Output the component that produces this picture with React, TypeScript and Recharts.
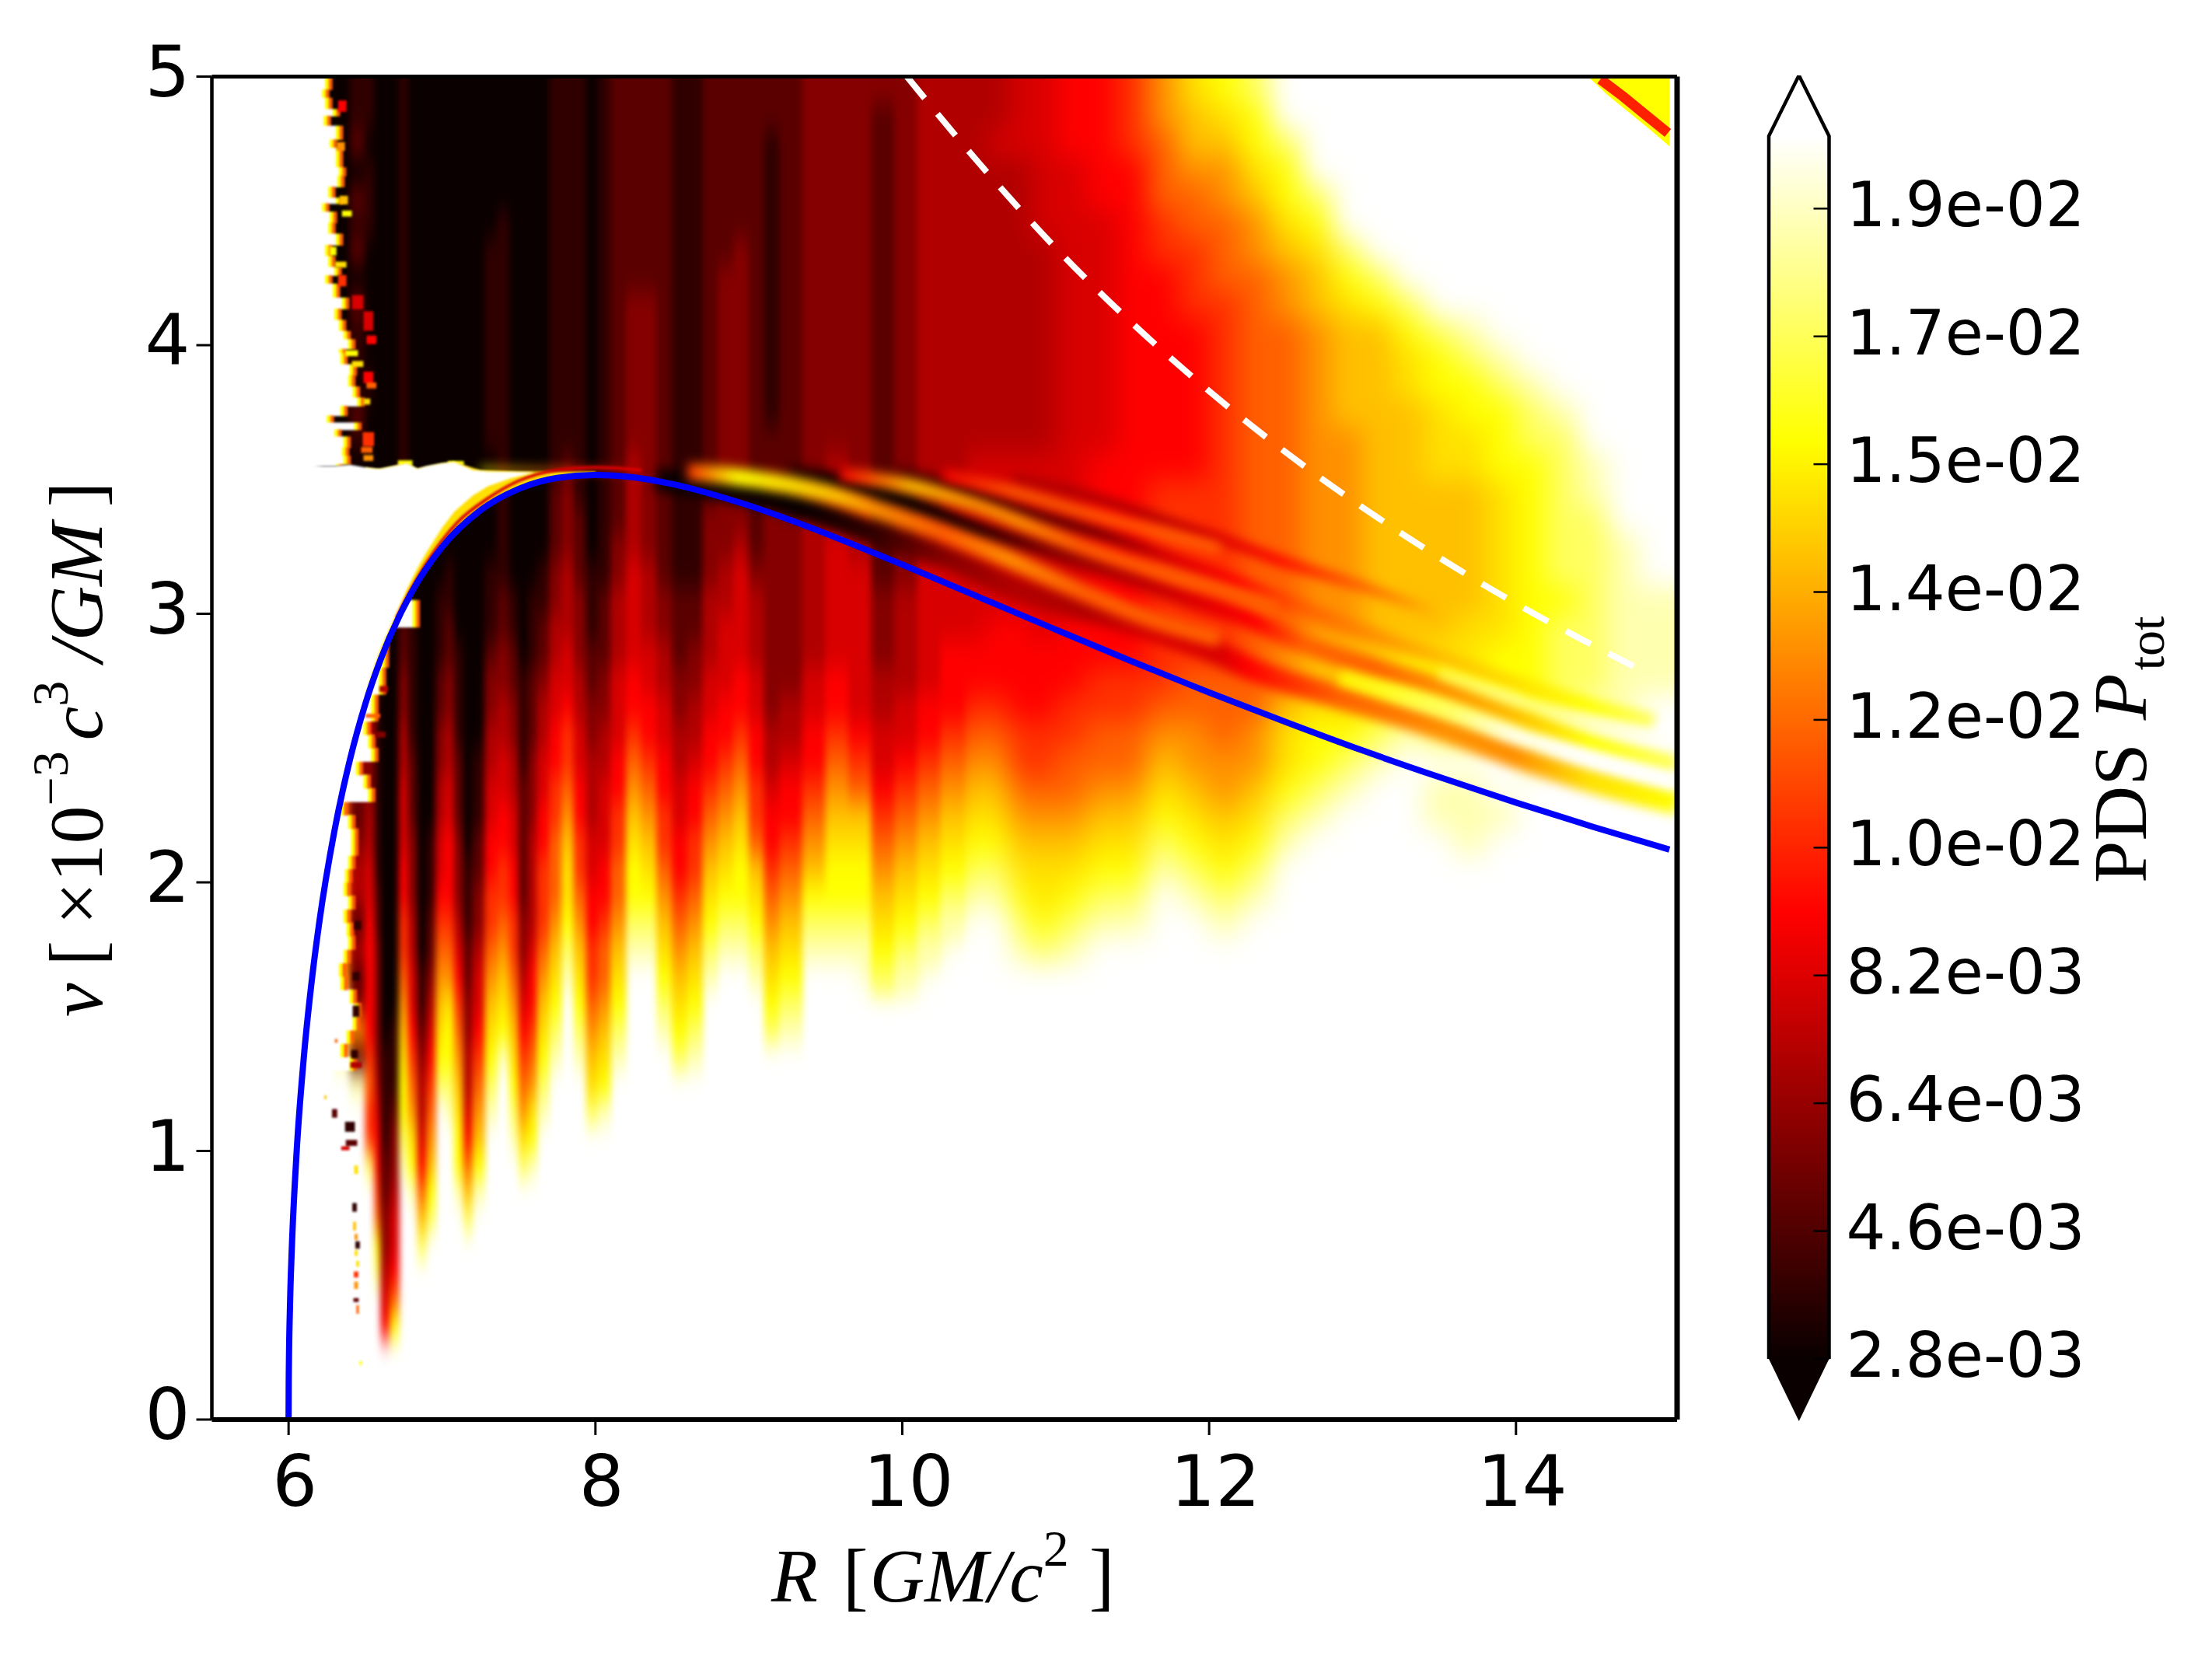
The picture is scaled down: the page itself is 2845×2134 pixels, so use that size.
import React from "react";
import { ComposedChart, XAxis, YAxis, Scatter, Line, Area, Label } from "recharts";

// ---------- figure frame ----------
const W = 2845, H = 2134;
const PL = 272.5, PR = 2157, PT = 98.5, PB = 1826;
const PX_R = (PR - PL) / 9.5, PX_NU = (PB - PT) / 5;

const xTicks = [6, 8, 10, 12, 14];
const yTicks = [0, 1, 2, 3, 4, 5];

// ---------- colour levels of the map ----------
const levelColors: Record<string, string> = {
  "0": "#0a0000", "1": "#300000", "2": "#5a0000", "3": "#850000", "4": "#b00000", "5": "#d80000",
  "6": "#ff0000", "7": "#ff3000", "8": "#ff6000", "9": "#ff9000", a: "#ffc000", b: "#ffe000",
  c: "#ffff00", d: "#ffff60", e: "#ffffb0", ".": "#ffffff",
};

// ---------- heat map, read column by column: left edge R, then levels for nu 0-1, 1-2, 2-3, 3-4, 4-5 ----------
const columnEdges = [6.2,6.3,6.4,6.5,6.56,6.6,6.66,6.72,6.78,6.84,6.9,6.96,7.02,7.08,7.14,7.2,7.28,7.36,7.44,7.5,7.56,7.62,7.7,7.78,7.86,7.94,8.02,8.1,8.2,8.3,8.4,8.5,8.6,8.7,8.8,8.9,9.0,9.1,9.2,9.35,9.5,9.65,9.8,9.95,10.1,10.25,10.4,10.55,10.7,10.85,11,11.2,11.4,11.6,11.8,12,12.2,12.4,12.6,12.8,13,13.2,13.4,13.6,13.8,14,14.2,14.4,14.6,14.8,15];
const heatColumns = [
  ".......... .......... .......... 0000000000 0000000000",
  ".......... ...e9e9989 8888777777 0000000000 0000000000",
  ".......... ..e2932424 4323333333 0000001201 1202120211",
  ".........d 7787666665 5443355443 0000000010 0000111011",
  ".....dc876 6543333322 1111111111 0000000000 0000000000",
  "...6543322 1111000000 0000000000 0000000000 0000000000",
  "...c865543 3211100000 0000000000 0000000000 0000000000",
  ".........e dccba98776 6555443322 1111111111 1111111111",
  "........ec b987655443 3322211111 0000000000 0000000000",
  "......da86 5443211000 0000000000 0000000000 0000000000",
  ".......dca 9876543221 1100000000 0000000000 0000000000",
  ".......... ..dcba9876 5544332211 1000000000 0000000000",
  ".......... .edccb9876 6655443322 1100000000 0000000000",
  "........ec cba9876543 3322211110 0000000000 0000000000",
  ".......da8 6544332211 1000000000 0000000000 0000000000",
  "........ec a987655433 2211100000 0000000000 0000000000",
  ".......... .edcba9877 6655443321 1100001111 1111000000",
  ".......... ...ecba987 7665544332 2111111111 1111100000",
  ".......... edcba98776 6554433221 1000000000 0000000000",
  ".........d b987654332 2222111100 0000000000 0000000000",
  ".........e cb98766544 4433322211 1000000000 0000000000",
  ".......... .edcba9877 7665544322 1100000000 0000000000",
  ".......... ...edcba98 8877665544 3322211111 1111111111",
  ".......... ......edcb ba98776554 4433321111 1111111111",
  ".......... ...edcba98 7766554433 3222111111 1111111111",
  ".......... .dba987766 5544433221 1100000000 0000000000",
  ".......... .ecba98876 6555443322 2111111111 1111111111",
  ".......... ...edcba98 8776655544 4332222222 2222222222",
  ".......... .......edc cba9876655 5544443333 3322222222",
  ".......... .......edc ba98766554 4433333333 3322222222",
  ".......... ....edcba9 8776655443 3222222222 2222222222",
  ".......... ...dcba987 6655443322 2111111111 1111111111",
  ".......... ...edcba98 7766544332 2111111111 1111111111",
  ".......... ......edcb a987665544 4333222222 2222222222",
  ".......... .......edc ba98766555 4433333333 3332222222",
  ".......... .......edc cba9876655 5543333333 3333222222",
  ".......... ......edcb a877665544 4322222222 2222222222",
  ".......... ....dcba98 7665443333 3333322111 1111111122",
  ".......... ....edcba9 8766544333 3333222222 2222222222",
  ".......... .......edc a987665544 4444333333 3333333333",
  ".......... .......edc cba9876655 5554443333 3333333333",
  ".......... .......edc cba8765555 5544433333 3333333333",
  ".......... ......dcba 9876554433 3222222222 2222222223",
  ".......... ......edcb a987655444 4333333333 3333333333",
  ".......... .......edc ba98766555 5544444444 4444444444",
  ".......... ........ed cba9876665 5555544444 4444444444",
  ".......... .........e dcba987665 5555554444 4444444444",
  ".......... .........e dcba987666 5555554444 4444444544",
  ".......... .......edc ba98776666 5555554444 4444444555",
  ".......... .......dcb ba98776665 5555554444 4444555555",
  ".......... .......edc ba98877666 5555555555 5555555666",
  ".......... ........ed cba9887766 6666665555 5555566666",
  ".......... ........ed cba9887766 6666666666 6666666777",
  ".......... .......... edcba98777 7777766666 6667788899",
  ".......... .........e dcba998877 7777766666 6777889aab",
  ".......... ........ed cba9988877 7777777777 7788899abc",
  ".......... .........e dcba998888 8888888888 88899abccd",
  ".......... .......... .edcbba998 8888888888 899abccd..",
  ".......... .......... ..edccbaa9 9999999999 9aabcd....",
  ".......... .......... ...edcbaa9 9999999aaa abcd......",
  ".......... .......... ....edcbaa aaaaaaaaaa acd.......",
  ".......... .......... .....edcba aaaaaaaabb cd........",
  ".......... .......... ..ee.ddcba aaaaabbbcc d.........",
  ".......... .......... .eee.ddcbb aaaaabbccd e.........",
  ".......... .......... ..e..edccb bbbbbcccde ..........",
  ".......... .......... ....edcccc ccccccdde. ..........",
  ".......... .......... .....edddd cdddddde.. ..........",
  ".......... .......... ......eddd ddddee.... ..........",
  ".......... .......... ......eeee eee....... ..........",
  ".......... .......... .......eee e......... ..........",
];

// ---------- left, jagged edge of the colored region ----------
// lower block: nu from 1.30 every 0.05 up to 3.00
const lowerEdgeStart = 1.3;
const lowerEdge = [6.40,6.34,6.38,6.42,6.43,6.40,6.34,6.33,6.36,6.39,6.38,6.36,6.39,6.36,6.37,6.39,6.41,6.41,6.39,6.34,6.52,6.49,6.44,6.54,6.52,6.49,6.54,6.54,6.59,6.59,6.61,6.61,6.61,6.81,6.81,6.72];
// upper block: [nu, R]
const upperEdge = [[5,6.24],[4.951,6.22],[4.92,6.24],[4.878,6.29],[4.853,6.23],[4.816,6.31],[4.765,6.27],[4.734,6.31],[4.703,6.31],[4.661,6.33],[4.63,6.32],[4.589,6.26],[4.548,6.31],[4.527,6.22],[4.496,6.27],[4.455,6.26],[4.414,6.31],[4.372,6.24],[4.331,6.26],[4.29,6.30],[4.259,6.24],[4.228,6.29],[4.176,6.35],[4.135,6.30],[4.093,6.33],[4.052,6.36],[4.021,6.39],[3.985,6.33],[3.969,6.34],[3.928,6.40],[3.887,6.39],[3.845,6.42],[3.804,6.45],[3.773,6.34],[3.737,6.25],[3.711,6.43],[3.685,6.30],[3.659,6.36],[3.618,6.35],[3.587,6.36],[3.556,6.31]];

// flecks: R, nu, size in R, size in nu, level
const flecks: [number, number, number, number, string][] = [
  [6.35,4.89,.05,.04,"6"],[6.34,4.74,.05,.03,"9"],[6.36,4.54,.05,.03,"a"],[6.38,4.49,.06,.02,"c"],[6.29,4.35,.04,.03,"c"],[6.34,4.30,.07,.02,"b"],[6.35,4.24,.05,.04,"7"],[6.45,4.16,.07,.05,"5"],[6.52,4.09,.06,.07,"5"],[6.54,4.02,.06,.03,"6"],[6.41,3.97,.08,.02,"c"],[6.45,3.93,.07,.02,"b"],[6.52,3.88,.06,.04,"6"],[6.54,3.85,.06,.02,"8"],[6.51,3.79,.04,.02,"b"],[6.52,3.65,.07,.05,"7"],[6.51,3.61,.07,.02,"8"],[6.52,3.58,.06,.02,"9"],[6.76,3.56,.09,.02,"c"],[7.09,3.56,.1,.015,"c"],
  [6.30,1.14,.03,.03,"2"],[6.40,1.09,.06,.035,"1"],[6.41,1.03,.07,.02,"2"],[6.37,1.01,.05,.012,"5"],[6.44,.93,.02,.03,"b"],[6.43,.79,.025,.03,"1"],[6.43,.72,.015,.03,"a"],[6.44,.68,.015,.02,"9"],[6.45,.65,.025,.025,"1"],[6.44,.62,.015,.02,"b"],[6.45,.58,.015,.02,"b"],[6.44,.54,.025,.02,"7"],[6.44,.50,.02,.025,"9"],[6.44,.445,.03,.012,"2"],[6.45,.41,.012,.03,"8"],[6.47,.21,.012,.012,"c"],[6.31,1.41,.012,.012,"8"],[6.24,1.2,.01,.012,"a"],[6.43,1.36,.04,.03,"1"],[6.44,1.32,.07,.02,"4"],[6.44,1.52,.04,.04,"1"],[6.44,1.65,.04,.03,"1"],[6.45,1.84,.04,.03,"1"],[6.31,2.93,.012,.01,"c"],[6.44,2.93,.015,.012,"c"],[6.23,2.86,.008,.01,"d"],[6.61,3.0,.03,.012,"3"],[6.55,2.62,.09,.012,"8"],[6.62,2.72,.05,.02,"4"],[6.6,2.55,.06,.02,"3"],
];

// ---------- curves ----------
const epicyclicCurve = [[6,0],[6.001,.14],[6.01,.441],[6.02,.621],[6.05,.972],[6.1,1.353],[6.15,1.629],[6.2,1.851],[6.3,2.195],[6.4,2.457],[6.5,2.664],[6.6,2.83],[6.8,3.078],[7,3.248],[7.25,3.385],[7.5,3.465],[7.75,3.506],[8,3.517],[8.25,3.508],[8.5,3.483],[9,3.403],[9.5,3.299],[10,3.183],[10.5,3.062],[11,2.941],[11.5,2.822],[12,2.707],[12.5,2.597],[13,2.491],[13.5,2.392],[14,2.297],[14.5,2.207],[15,2.122]];
const keplerCurve = [[10.03,5],[10.5,4.678],[11,4.362],[11.5,4.081],[12,3.829],[12.5,3.601],[13,3.396],[13.5,3.209],[14,3.038],[14.5,2.883],[14.8,2.795]];

// gap between upper block and curve: R, curve side, top side
const glowBand = [[6.5,2.664,3.545],[6.57,2.79,3.54],[6.6,2.83,3.54],[6.77,3.05,3.56],[6.84,3.12,3.54],[7,3.248,3.56],[7.08,3.31,3.565],[7.25,3.385,3.535],[7.5,3.465,3.53],[7.75,3.506,3.53],[8,3.517,3.53]];
const whiteBand = [[6.1,1.4,3.55],[6.2,1.87,3.55],[6.3,2.22,3.55],[6.4,2.49,3.555],[6.5,2.70,3.545],[6.57,2.82,3.54],[6.6,2.87,3.54],[6.77,3.09,3.56],[6.84,3.17,3.54],[6.9,3.23,3.55],[7,3.32,3.56],[7.08,3.38,3.565],[7.2,3.44,3.535],[7.3,3.475,3.53],[7.45,3.505,3.528],[7.6,3.525,3.526]];
const redGlow = [[6.7,2.985],[6.9,3.19],[7.1,3.34],[7.3,3.43],[7.5,3.495],[7.75,3.535],[8,3.545],[8.3,3.535]];

// top-right corner
const cornerPatch = [[14.47,5,5],[14.6,4.93,5],[14.75,4.86,5],[14.9,4.79,5],[15,4.74,5]];
const cornerStripe = [[14.55,4.99],[14.7,4.925],[14.85,4.855],[14.99,4.79]];

// stripes fanning off the curve: R, nu, level
const stripe1 = [[8.4,3.5,"0"],[8.92,3.455,"0"],[9.37,3.39,"0"],[9.82,3.30,"1"],[10.27,3.217,"3"],[10.72,3.10,"4"],[11.17,3.02,"4"],[11.62,2.94,"5"],[12.07,2.85,"5"],[12.25,2.80,"6"],[12.85,2.69,"8"],[13.54,2.567,"9"],[14,2.47,"9"],[14.47,2.38,"b"],[15.05,2.295,"c"]];
const stripe2 = [[9.26,3.52,"1"],[9.6,3.486,"0"],[10.05,3.41,"0"],[10.5,3.31,"1"],[10.95,3.24,"3"],[11.4,3.155,"4"],[11.85,3.06,"5"],[12.3,2.97,"6"],[12.62,2.887,"8"],[13.08,2.80,"8"],[13.54,2.72,"9"],[14,2.62,"a"],[14.47,2.525,"c"],[15.05,2.44,"d"]];
const stripe3 = [[9.93,3.527,"2"],[10.38,3.455,"1"],[10.83,3.37,"2"],[11.28,3.30,"3"],[11.73,3.207,"5"],[12.18,3.114,"6"],[12.62,3.02,"8"],[13.08,2.918,"9"],[13.54,2.835,"a"],[14,2.74,"b"],[14.47,2.66,"c"],[14.9,2.60,"d"]];
const stripe4 = [[10.72,3.507,"4"],[11.17,3.445,"4"],[11.62,3.362,"4"],[12.07,3.28,"5"],[12.45,3.2,"6"],[13,3.1,"8"],[13.5,3.0,"a"]];
const bright1 = [[8.6,3.53,"7"],[8.92,3.51,"c"],[9.26,3.48,"b"],[9.595,3.434,"a"],[9.82,3.39,"9"],[10.27,3.30,"8"],[10.68,3.207,"9"],[11.17,3.083,"8"],[11.62,2.98,"8"],[12.07,2.907,"8"]];
const bright2 = [[9.595,3.52,"6"],[10.05,3.476,"a"],[10.5,3.40,"9"],[10.77,3.34,"9"],[11.17,3.25,"8"],[11.62,3.165,"8"],[12.07,3.09,"8"],[12.45,3.02,"8"]];
const bright3 = [[10.27,3.517,"6"],[10.72,3.455,"8"],[11.17,3.38,"8"],[11.62,3.31,"8"],[12.07,3.24,"8"]];
const paleGap1 = [[12.85,2.763,"c"],[13.54,2.64,"d"],[14,2.546,"."],[14.5,2.46,"."],[15.05,2.37,"."]];
const paleGap2 = [[13.5,2.78,"d"],[14,2.68,"e"],[14.47,2.59,"e"],[15.05,2.52,"."]];
const ridge = [[7.25,3.54,"c"],[7.6,3.535,"9"],[7.9,3.535,"7"],[8.3,3.533,"3"]];

const stripes: { id: string; pts: any[]; width: number }[] = [
  { id: "s1", pts: stripe1, width: 30 },
  { id: "s2", pts: stripe2, width: 24 },
  { id: "s3", pts: stripe3, width: 20 },
  { id: "s4", pts: stripe4, width: 14 },
  { id: "b1", pts: bright1, width: 22 },
  { id: "b2", pts: bright2, width: 18 },
  { id: "b3", pts: bright3, width: 14 },
  { id: "w1", pts: paleGap1, width: 16 },
  { id: "w2", pts: paleGap2, width: 10 },
  { id: "r1", pts: ridge, width: 5 },
];

// ---------- colour bar ----------
const colorbarLabels = ["2.8e-03", "4.6e-03", "6.4e-03", "8.2e-03", "1.0e-02", "1.2e-02", "1.4e-02", "1.5e-02", "1.7e-02", "1.9e-02"];
const colorbarTicks = [0, 1, 2, 3, 4, 5, 6, 7, 8, 9];
const colorbarTop = 9.568, colorbarMaxExt = 10.042, colorbarMinExt = -0.487;
const colorbarBody = [{ x: 0, lo: 0, hi: colorbarTop }, { x: 1, lo: 0, hi: colorbarTop }];
const colorbarUpper = [{ x: 0, lo: colorbarTop, hi: colorbarTop }, { x: 0.5, lo: colorbarTop, hi: colorbarMaxExt }, { x: 1, lo: colorbarTop, hi: colorbarTop }];
const colorbarLower = [{ x: 0, lo: 0, hi: 0 }, { x: 0.5, lo: colorbarMinExt, hi: 0 }, { x: 1, lo: 0, hi: 0 }];
const colorbarOutline = [{ x: 0, y: 0 }, { x: 0, y: colorbarTop }, { x: 0.5, y: colorbarMaxExt }, { x: 1, y: colorbarTop }, { x: 1, y: 0 }];
const colorbarStops = [["0", "#ffffff"], ["0.25", "#ffff00"], ["0.636", "#ff0000"], ["1", "#0a0000"]];

// ---------- derived tables for the library ----------
const fineCells: any[] = [];
const coarseCells: any[] = [];
heatColumns.forEach((col, i) => {
  const cells = col.replace(/ /g, "");
  const r0 = columnEdges[i], r1 = columnEdges[i + 1];
  let j = 0;
  while (j < cells.length) {
    let k = j;
    while (k + 1 < cells.length && cells[k + 1] === cells[j]) k++;
    if (cells[j] !== ".") {
      const lo = j * 0.1, hi = (k + 1) * 0.1;
      const cell = { r: (r0 + r1) / 2, nu: (lo + hi) / 2, w: r1 - r0, h: hi - lo, l: cells[j], up: k === cells.length - 1 ? 60 : 0, right: r1 === 15 ? 60 : 0 };
      if (r0 <= 10.25) fineCells.push(cell);
      if (r0 >= 9.8) coarseCells.push(cell);
    }
    j = k + 1;
  }
});

const maskCells: any[] = [];
const pushRow = (nu: number, h: number, e: number) => {
  maskCells.push({ r: (5.6 + e) / 2, nu, w: e - 5.6, h, l: "." });
  maskCells.push({ r: e + 0.012, nu, w: 0.024, h, l: "c" });
  maskCells.push({ r: e + 0.034, nu, w: 0.02, h, l: "8" });
};
lowerEdge.forEach((e, i) => pushRow(lowerEdgeStart + i * 0.05 + 0.025, 0.05, e));
upperEdge.forEach(([nu, e], i) => {
  const next = i + 1 < upperEdge.length ? upperEdge[i + 1][0] : 3.55;
  pushRow((nu + next) / 2, nu - next, e);
});
const fleckCells = flecks.map(([r, nu, w, h, l]) => ({ r, nu, w, h, l }));

const rn = (rows: any[]) => rows.map((p) => ({ r: p[0], nu: p[1] }));
const rangeRows = (rows: any[]) => rows.map((p) => ({ r: p[0], lo: p[1], hi: p[2] }));
const rangeKey = (d: any) => [d.lo, d.hi];

const CellShape = (p: any) => {
  const d = p.payload;
  const w = d.w * PX_R, h = d.h * PX_NU;
  const up = d.up || 0, right = d.right || 0;
  return <rect x={p.cx - w / 2 - 0.4} y={p.cy - h / 2 - 0.4 - up} width={w + 0.8 + right} height={h + 0.8 + up} fill={levelColors[d.l]} />;
};

const TICK_FONT = "'DejaVu Sans', sans-serif";
const MATH_FONT = "'Liberation Serif', serif";

const XTick = (p: any) => (
  <text x={p.x + 8} y={p.y + 89} textAnchor="middle" fontFamily={TICK_FONT} fontSize={91} fill="#000">{p.payload.value}</text>
);
const YTick = (p: any) => (
  <text x={p.x + 3} y={p.y + 25} textAnchor="end" fontFamily={TICK_FONT} fontSize={91} fill="#000">{p.payload.value}</text>
);

const XLabel = () => (
  <text x={992} y={2060} fontFamily={MATH_FONT} fontSize={98} fill="#000">
    <tspan fontStyle="italic">R</tspan>
    <tspan dx={32}>[</tspan>
    <tspan fontStyle="italic" dx={2}>GM/c</tspan>
    <tspan fontSize={66} dy={-46}>2</tspan>
    <tspan dy={46} dx={26}>]</tspan>
  </text>
);
const YLabel = () => (
  <text transform="translate(131,1308) rotate(-90)" fontFamily={MATH_FONT} fontSize={98} fill="#000">
    <tspan fontStyle="italic">ν</tspan>
    <tspan dx={22}>[</tspan>
    <tspan dx={20}>×10</tspan>
    <tspan fontSize={66} dy={-44}>−3</tspan>
    <tspan fontStyle="italic" dy={44} dx={14}>c</tspan>
    <tspan fontSize={66} dy={-44}>3</tspan>
    <tspan fontStyle="italic" dy={44} dx={24}>/GM</tspan>
    <tspan dx={20}>]</tspan>
  </text>
);
const BarLabel = () => (
  <text transform="translate(2760,1136) rotate(-90)" fontFamily={MATH_FONT} fontSize={98} fill="#000">
    <tspan>PDS</tspan>
    <tspan dx={30} fontStyle="italic">P</tspan>
    <tspan fontSize={66} dy={23} dx={4}>tot</tspan>
  </text>
);
const BarTick = (p: any) => (
  <g>
    <line x1={p.x - 20} x2={p.x} y1={p.y} y2={p.y} stroke="#000" strokeWidth={2.5} />
    <text x={p.x + 22} y={p.y + 23} fontFamily={TICK_FONT} fontSize={80} fill="#000">{colorbarLabels[p.payload.value]}</text>
  </g>
);

const tickLine = { stroke: "#000", strokeWidth: 3 };
const overlay: React.CSSProperties = { position: "absolute", left: 0, top: 0 };
const common = { isAnimationActive: false, dot: false, activeDot: false } as any;

export default function App() {
  return (
    <div style={{ position: "absolute", left: 0, top: 0, width: W, height: H, background: "#fff", overflow: "hidden" }}>
      <style>{`
        .coarse { filter: url(#coarseBlur); clip-path: url(#plotClip); }
        .fine { filter: url(#fineBlur); clip-path: url(#plotClip); }
        .stripe { filter: url(#stripeBlur); clip-path: url(#plotClip); }
        .soft { filter: url(#softBlur); }
      `}</style>
      <svg width={0} height={0} style={{ position: "absolute" }}>
        <defs>
          <filter id="coarseBlur" filterUnits="userSpaceOnUse" x={0} y={0} width={W} height={H} colorInterpolationFilters="sRGB">
            <feGaussianBlur stdDeviation="17 18" />
          </filter>
          <filter id="fineBlur" filterUnits="userSpaceOnUse" x={0} y={0} width={W} height={H} colorInterpolationFilters="sRGB">
            <feGaussianBlur stdDeviation="4 16" />
          </filter>
          <filter id="stripeBlur" filterUnits="userSpaceOnUse" x={0} y={0} width={W} height={H} colorInterpolationFilters="sRGB">
            <feGaussianBlur stdDeviation="7" />
          </filter>
          <filter id="softBlur" filterUnits="userSpaceOnUse" x={0} y={0} width={W} height={H} colorInterpolationFilters="sRGB">
            <feGaussianBlur stdDeviation="1.5" />
          </filter>
          <clipPath id="plotClip" clipPathUnits="userSpaceOnUse">
            <rect x={PL} y={PT} width={PR - PL} height={PB - PT} />
          </clipPath>
          {stripes.map((s) => {
            const rs = s.pts.map((p) => p[0]);
            const a = Math.min(...rs), b = Math.max(...rs);
            return (
              <linearGradient key={s.id} id={s.id} x1="0" x2="1" y1="0" y2="0">
                {s.pts.map((p, i) => (
                  <stop key={i} offset={(p[0] - a) / (b - a)} stopColor={levelColors[p[2]]} />
                ))}
              </linearGradient>
            );
          })}
          <linearGradient id="barGrad" x1="0" x2="0" y1="0" y2="1">
            {colorbarStops.map(([o, c]) => <stop key={o} offset={o} stopColor={c} />)}
          </linearGradient>
        </defs>
      </svg>

      <div style={overlay}>
        <ComposedChart width={W} height={H} margin={{ left: 0, top: PT - 20, right: W - PR - 20, bottom: H - PB - 100 }}>
          <Scatter data={coarseCells} className="coarse" shape={CellShape} isAnimationActive={false} zIndex={101} />
          <Scatter data={fineCells} className="fine" shape={CellShape} isAnimationActive={false} zIndex={102} />
          {stripes.map((s, i) => (
            <Line key={s.id} {...common} data={rn(s.pts)} dataKey="nu" className="stripe" type="monotone" stroke={`url(#${s.id})`} strokeWidth={s.width} zIndex={110 + i} />
          ))}
          <Scatter data={maskCells} className="soft" shape={CellShape} isAnimationActive={false} zIndex={130} />
          <Scatter data={fleckCells} className="soft" shape={CellShape} isAnimationActive={false} zIndex={131} />
          <Area {...common} data={rangeRows(glowBand)} dataKey={rangeKey} className="soft" type="linear" fill="#ffe000" fillOpacity={1} stroke="none" zIndex={140} />
          <Line {...common} data={rn(redGlow)} dataKey="nu" className="soft" type="monotone" stroke="#d80000" strokeWidth={4} zIndex={141} />
          <Area {...common} data={rangeRows(whiteBand)} dataKey={rangeKey} className="soft" type="linear" fill="#ffffff" fillOpacity={1} stroke="none" zIndex={142} />
          <Area {...common} data={rangeRows(cornerPatch)} dataKey={rangeKey} type="linear" fill="#ffff00" fillOpacity={1} stroke="none" zIndex={143} />
          <Line {...common} data={rn(cornerStripe)} dataKey="nu" className="stripe-corner" type="linear" stroke="#ff2000" strokeWidth={13} zIndex={144} />
          <Line {...common} data={rn(keplerCurve)} dataKey="nu" type="monotone" stroke="#ffffff" strokeWidth={8} strokeDasharray="36 26" zIndex={150} />
          <Line {...common} data={rn(epicyclicCurve)} dataKey="nu" type="monotone" stroke="#0000ff" strokeWidth={8} zIndex={151} />

          <XAxis dataKey="r" type="number" domain={[5.5, 15]} ticks={xTicks} interval={0} height={100} tickSize={20} axisLine={{ stroke: "#000", strokeWidth: 6 }} tickLine={tickLine} tick={XTick} zIndex={200}>
            <Label content={XLabel} />
          </XAxis>
          <XAxis xAxisId="top" orientation="top" dataKey="r" type="number" domain={[5.5, 15]} ticks={xTicks} interval={0} height={20} tickSize={20} axisLine={{ stroke: "#000", strokeWidth: 5 }} tickLine={tickLine} tick={false} zIndex={200} />
          <YAxis dataKey="nu" type="number" domain={[0, 5]} ticks={yTicks} interval={0} width={PL} tickSize={20} tickMargin={11} axisLine={{ stroke: "#000", strokeWidth: 4.5 }} tickLine={tickLine} tick={YTick} zIndex={200}>
            <Label content={YLabel} />
          </YAxis>
          <YAxis yAxisId="right" orientation="right" dataKey="nu" type="number" domain={[0, 5]} ticks={yTicks} interval={0} width={20} tickSize={20} axisLine={{ stroke: "#000", strokeWidth: 7 }} tickLine={tickLine} tick={false} zIndex={200} />
        </ComposedChart>
      </div>

      <div style={overlay}>
        <ComposedChart width={W} height={H} margin={{ left: 2275, top: 97, right: W - 2352.5 - 100, bottom: H - 1828 }}>
          <XAxis dataKey="x" type="number" domain={[0, 1]} hide />
          <YAxis dataKey="y" orientation="right" type="number" domain={[colorbarMinExt, colorbarMaxExt]} ticks={colorbarTicks} interval={0} width={100} tickSize={0} tickMargin={0} axisLine={false} tickLine={false} tick={BarTick} allowDataOverflow>
            <Label content={BarLabel} />
          </YAxis>
          <Area {...common} data={colorbarBody} dataKey={rangeKey} type="linear" fill="url(#barGrad)" fillOpacity={1} stroke="none" />
          <Area {...common} data={colorbarUpper} dataKey={rangeKey} type="linear" fill="#ffffff" fillOpacity={1} stroke="none" />
          <Area {...common} data={colorbarLower} dataKey={rangeKey} type="linear" fill="#0a0000" fillOpacity={1} stroke="none" />
          <Line {...common} data={colorbarOutline} dataKey="y" type="linear" stroke="#000" strokeWidth={4.5} />
        </ComposedChart>
      </div>
    </div>
  );
}
